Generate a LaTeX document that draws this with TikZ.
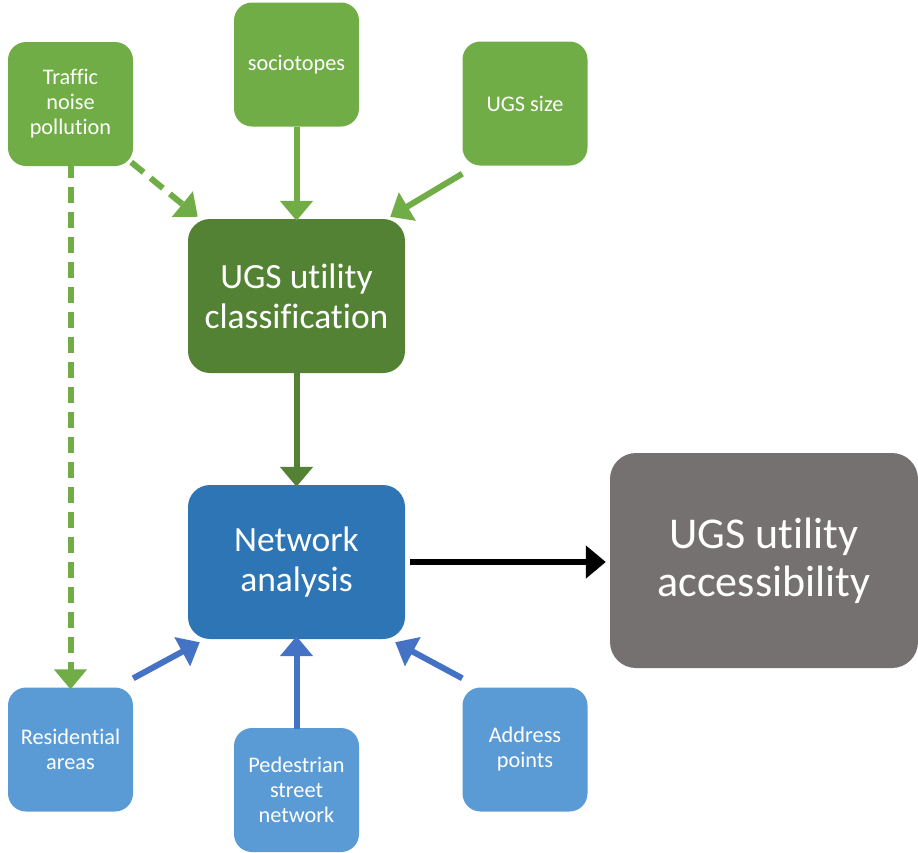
\documentclass[tikz,border=0pt]{standalone}
\usepackage{fontspec}
\setmainfont{Carlito}[Ligatures={NoCommon}]
\usetikzlibrary{arrows.meta}
\definecolor{lgreen}{HTML}{70AD47}
\definecolor{dgreen}{HTML}{548235}
\definecolor{dblue}{HTML}{2E75B6}
\definecolor{lblue}{HTML}{5B9BD5}
\definecolor{ablue}{HTML}{4472C4}
\definecolor{gbox}{HTML}{767171}
\tikzset{
  smallbox/.style={rectangle, rounded corners=18pt, minimum width=125pt, minimum height=124pt, inner sep=0pt, align=center, text=white, font=\fontsize{22.3}{25}\selectfont},
  bigbox/.style={rectangle, rounded corners=22pt, minimum width=217pt, minimum height=154pt, inner sep=0pt, align=center, text=white, font=\fontsize{35.5}{40}\selectfont},
  graybox/.style={rectangle, rounded corners=26pt, minimum width=308pt, minimum height=215pt, inner sep=0pt, align=center, text=white, fill=gbox, font=\fontsize{44}{48}\selectfont},
  arr/.style={line width=6pt, -{Triangle[width=32pt,length=20pt]}},
  dsh/.style={dash pattern=on 16pt off 9pt}
}
\begin{document}
\begin{tikzpicture}[x=1pt,y=-1pt]
\useasboundingbox (0,0) rectangle (918,852);
\node[smallbox, fill=lgreen] (traffic) at (70.5,104) {Traffic\\noise\\pollution};
\node[smallbox, fill=lgreen] (socio) at (296.5,64.5) {sociotopes};
\node[smallbox, fill=lgreen] (size) at (525,103.5) {UGS size};
\node[bigbox, fill=dgreen] (cls) at (296.5,296) {UGS utility\\classification};
\node[bigbox, fill=dblue] (net) at (296.5,562) {Network\\analysis};
\node[graybox] (acc) at (764,560.5) {UGS utility\\accessibility};
\node[smallbox, fill=lblue] (res) at (70.5,749.5) {Residential\\areas};
\node[smallbox, fill=lblue] (ped) at (296.5,790) {Pedestrian\\street\\network};
\node[smallbox, fill=lblue] (addr) at (525,749.5) {Address\\points};

\draw[arr, lgreen, dsh] ([shift={(-2,-4)}]traffic.south east) -- ([shift={(10,-2)}]cls.north west);
\draw[arr, lgreen, dsh] ([yshift=4]traffic.south) -- ([yshift=-2]res.north);
\draw[arr, lgreen] (socio.south) -- ([yshift=-2]cls.north);
\draw[arr, lgreen] ([yshift=-8]size.south west) -- ([shift={(-15,-2)}]cls.north east);
\draw[arr, dgreen] ([yshift=2]cls.south) -- ([yshift=-2]net.north);
\draw[arr, black] ([xshift=5]net.east) -- ([xshift=-4]net.east -| acc.west);
\draw[arr, ablue] ([yshift=9]res.north east) -- ([shift={(12,3)}]net.south west);
\draw[arr, ablue] ([yshift=-1]ped.north) -- ([yshift=3]net.south);
\draw[arr, ablue] ([yshift=9]addr.north west) -- ([shift={(-10,3)}]net.south east);
\end{tikzpicture}
\end{document}
